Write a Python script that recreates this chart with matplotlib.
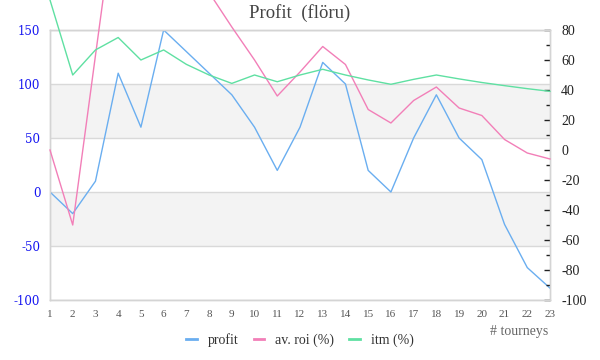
import matplotlib.pyplot as plt
from matplotlib.lines import Line2D
from matplotlib.ticker import MultipleLocator

# tourney number on x
tourneys = list(range(1, 24))
tick_labels = [str(t) for t in tourneys]

# left axis: profit
profit = [0, -20, 10, 110, 60, 150, 130, 110, 90, 60, 20, 60,
          120, 100, 20, 0, 50, 90, 50, 30, -30, -70, -89]
# right axis: average roi (%), goes off the top for a few tourneys
roi = [0, -50, 63, 175, 125, 150, 130, 105, 82, 60, 36, 52,
       69, 57, 27, 18, 33, 42, 28, 23, 7, -2, -6]
# right axis: in the money (%)
itm = [100, 50, 66.7, 75, 60, 66.7, 57.1, 50, 44.4, 50, 45.5, 50,
       53.8, 50, 46.7, 43.8, 47.1, 50, 47.4, 45, 42.9, 40.9, 39.1]

left_ticks = [-100, -50, 0, 50, 100, 150]
right_ticks = [-100, -80, -60, -40, -20, 0, 20, 40, 60, 80]

c_profit = "#6aaef0"
c_roi = "#f27fb8"
c_itm = "#5fe0a2"

plt.rcParams["font.family"] = ["Liberation Serif", "DejaVu Serif"]

fig = plt.figure(figsize=(6, 3.6), dpi=100)
ax = fig.add_axes([50 / 600, 1 - 300 / 360, 500 / 600, 270 / 360])
ax2 = ax.twinx()

ax.set_xlim(1, 23)
ax.set_ylim(-100, 150)
ax2.set_ylim(-100, 80)

# alternating bands and grid lines
for lo, hi in [(50, 100), (-50, 0)]:
    ax.axhspan(lo, hi, color="#f3f3f3", zorder=0, lw=0)
for y in left_ticks:
    ax.axhline(y, color="#d9d9d9", lw=1, zorder=0.5)

ax.plot(tourneys, profit, color=c_profit, lw=1, zorder=3)
ax2.plot(tourneys, roi, color=c_roi, lw=1, clip_on=False, zorder=3)
ax2.plot(tourneys, itm, color=c_itm, lw=1, clip_on=False, zorder=3)

ax.set_xticks(tourneys)
ax.set_xticklabels(tick_labels)
ax.tick_params(axis="x", length=0, pad=7, labelsize=8, labelcolor="#555555")

ax.set_yticks(left_ticks)
ax.set_yticklabels([str(v) for v in left_ticks])
ax.tick_params(axis="y", length=0, pad=7, labelsize=8.5, labelcolor="#1414f0")
for t in ax.get_yticklabels():
    t.set_fontfamily("DejaVu Serif")

ax2.set_yticks(right_ticks)
ax2.set_yticklabels([str(v) for v in right_ticks])
ax2.yaxis.set_minor_locator(MultipleLocator(10))
ax2.tick_params(axis="y", which="major", direction="in", length=4, width=1,
                color="#222222", pad=8, labelsize=10, labelcolor="#222222")
ax2.tick_params(axis="y", which="minor", direction="in", length=3, width=1,
                color="#222222")

for a in (ax, ax2):
    for s in a.spines.values():
        s.set_color("#d4d4d4")
        s.set_linewidth(1)

fig.text(0.5, 1 - 13 / 360, "Profit  (flöru)", ha="center", va="center",
         fontsize=13.5, color="#444444")
fig.text(548 / 600, 1 - 331 / 360, "# tourneys", ha="right", va="center",
         fontsize=10, color="#666666")

handles = [Line2D([], [], color=c_profit, lw=2),
           Line2D([], [], color=c_roi, lw=2),
           Line2D([], [], color=c_itm, lw=2)]
fig.legend(handles, ["profit", "av. roi (%)", "itm (%)"], loc="center",
           bbox_to_anchor=(0.5, 1 - 340 / 360), ncol=3, frameon=False,
           fontsize=10, handlelength=0.75, handletextpad=0.8,
           columnspacing=1.1, labelcolor="#333333")

fig.savefig("out.png", dpi=100)
